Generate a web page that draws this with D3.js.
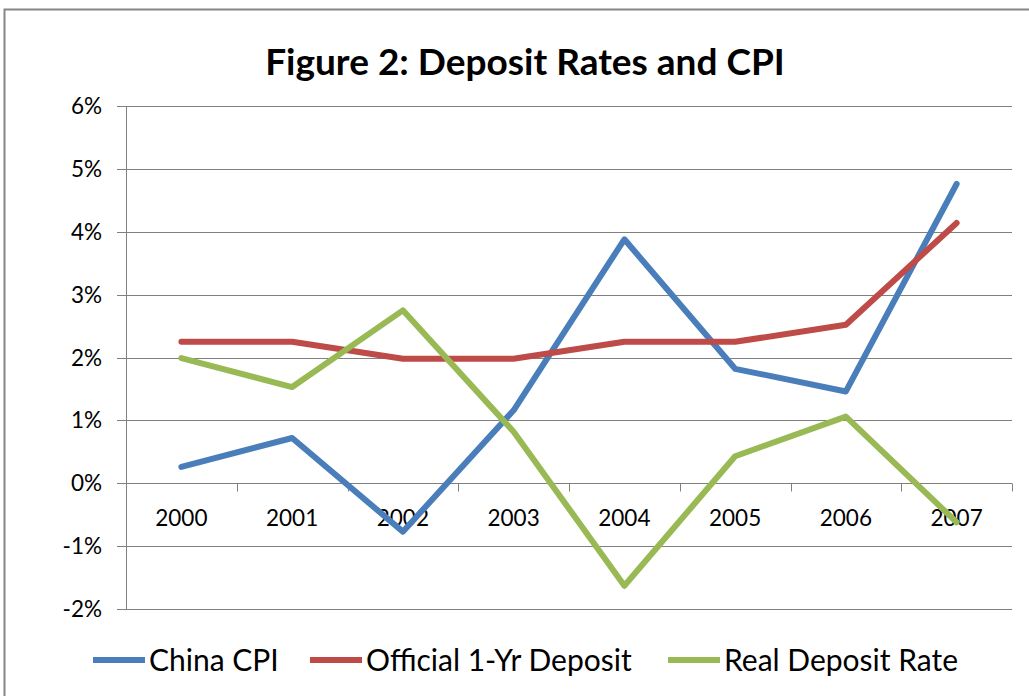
<!DOCTYPE html>
<html>
<head>
<meta charset="utf-8">
<script src="https://cdn.jsdelivr.net/npm/d3@7"></script>
<style>
  body { margin: 0; background: #fff; }
  svg text { font-family: Lato, "Open Sans", sans-serif; fill: #000; }
</style>
</head>
<body>
<div id="chart"></div>
<script>
const width = 1029, height = 696;
const margin = {top: 106, right: 17, bottom: 87, left: 126};

const years = ["2000", "2001", "2002", "2003", "2004", "2005", "2006", "2007"];
const chinaCpi = [0.26, 0.72, -0.77, 1.16, 3.88, 1.82, 1.46, 4.76];
const officialDeposit = [2.25, 2.25, 1.98, 1.98, 2.25, 2.25, 2.52, 4.14];
const realDeposit = [1.99, 1.53, 2.75, 0.82, -1.63, 0.43, 1.06, -0.62];
const yTicks = [-2, -1, 0, 1, 2, 3, 4, 5, 6];

const series = [
  {name: "China CPI", values: chinaCpi, color: "#4a7ebb"},
  {name: "Official 1-Yr Deposit", values: officialDeposit, color: "#be4b48"},
  {name: "Real Deposit Rate", values: realDeposit, color: "#98b954"}
];

const svg = d3.select("#chart")
    .append("svg")
    .attr("width", width)
    .attr("height", height);

// outer frame
svg.append("rect")
    .attr("x", 4.5).attr("y", 9.5)
    .attr("width", 1100).attr("height", 800)
    .attr("fill", "none")
    .attr("stroke", "#868686")
    .attr("stroke-width", 2);

svg.append("text")
    .attr("x", 525)
    .attr("y", 75)
    .attr("text-anchor", "middle")
    .style("font-size", "37px")
    .style("font-weight", "bold")
    .text("Figure 2: Deposit Rates and CPI");

const x = d3.scaleBand()
    .domain(years)
    .range([margin.left, width - margin.right])
    .padding(0);

const y = d3.scaleLinear()
    .domain([-2, 6])
    .range([height - margin.bottom, margin.top]);

// gridlines
svg.append("g")
    .selectAll("line")
    .data(yTicks)
    .enter()
    .append("line")
    .attr("x1", margin.left - 9)
    .attr("x2", width - margin.right)
    .attr("y1", d => Math.round(y(d)) + 0.5)
    .attr("y2", d => Math.round(y(d)) + 0.5)
    .style("stroke", "#808080")
    .style("stroke-width", 1);

// y axis line
svg.append("line")
    .attr("x1", margin.left + 0.5).attr("x2", margin.left + 0.5)
    .attr("y1", y(6)).attr("y2", y(-2))
    .style("stroke", "#808080");

// y labels
svg.append("g")
    .selectAll("text")
    .data(yTicks)
    .enter()
    .append("text")
    .attr("x", 102)
    .attr("y", d => y(d) + 8)
    .attr("text-anchor", "end")
    .style("font-size", "22.5px")
    .text(d => d + "%");

// x axis at 0%
const xAxis = svg.append("g")
    .attr("transform", `translate(0, ${Math.round(y(0)) + 0.5})`);
xAxis.selectAll("line")
    .data(years.map(d => x(d)).concat([x.range()[1]]))
    .enter()
    .append("line")
    .attr("x1", d => Math.round(d) + 0.5)
    .attr("x2", d => Math.round(d) + 0.5)
    .attr("y1", 0).attr("y2", 8)
    .style("stroke", "#808080");
xAxis.selectAll("text")
    .data(years)
    .enter()
    .append("text")
    .attr("x", d => x(d) + x.bandwidth() / 2)
    .attr("y", 42)
    .attr("text-anchor", "middle")
    .style("font-size", "22.5px")
    .text(d => d);

// lines
const line = d3.line()
    .x((d, i) => x(years[i]) + x.bandwidth() / 2)
    .y(d => y(d));

svg.append("g")
    .selectAll("path")
    .data(series)
    .enter()
    .append("path")
    .attr("d", d => line(d.values))
    .attr("fill", "none")
    .attr("stroke", d => d.color)
    .attr("stroke-width", 6)
    .attr("stroke-linejoin", "round")
    .attr("stroke-linecap", "round");

// legend
const legendX = [93, 310, 668];
const legend = svg.append("g")
    .selectAll("g")
    .data(series)
    .enter()
    .append("g")
    .attr("transform", (d, i) => `translate(${legendX[i]}, 660)`);
legend.append("line")
    .attr("x1", 0).attr("x2", 52)
    .attr("y1", 0).attr("y2", 0)
    .attr("stroke", d => d.color)
    .attr("stroke-width", 6);
legend.append("text")
    .attr("x", 56)
    .attr("y", 11)
    .style("font-size", "30px")
    .text(d => d.name);
</script>
</body>
</html>
